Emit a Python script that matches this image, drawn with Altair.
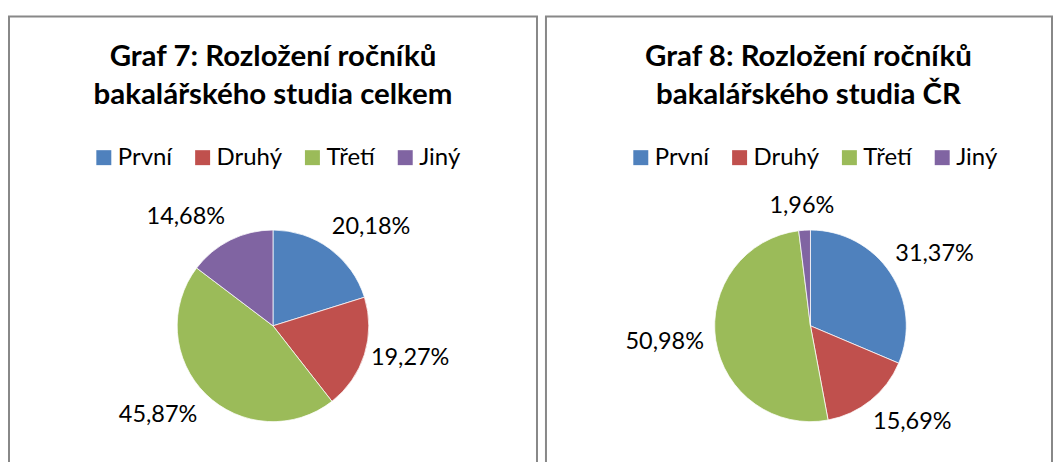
import math
import altair as alt
import pandas as pd

kategorie = ["První", "Druhý", "Třetí", "Jiný"]
celkem = [20.18, 19.27, 45.87, 14.68]
cr = [31.37, 15.69, 50.98, 1.96]
barvy = ["#4F81BD", "#C0504D", "#9BBB59", "#8064A2"]
titulek7 = ["Graf 7: Rozložení ročníků", "bakalářského studia celkem"]
titulek8 = ["Graf 8: Rozložení ročníků", "bakalářského studia ČR"]

FONT = "Lato"
RAMECEK = alt.ViewBackground(stroke="#888888", strokeWidth=2)
VYSKA = 460
STRED_Y = 310


def panel(hodnoty, titulek, sirka, stred_x, posun_titulku):
    df = pd.DataFrame({
        "kategorie": kategorie,
        "podil": hodnoty,
        "poradi": list(range(len(kategorie))),
        "popisek": [f"{v:.2f}".replace(".", ",") + "%" for v in hodnoty],
    })
    base = alt.Chart(df)
    kolac = base.mark_arc(outerRadius=96, stroke="white", strokeWidth=0.75).encode(
        x=alt.value(stred_x),
        y=alt.value(STRED_Y),
        theta=alt.Theta("podil:Q", stack=True),
        color=alt.Color(
            "kategorie:N",
            scale=alt.Scale(domain=kategorie, range=barvy),
            sort=kategorie,
            legend=alt.Legend(
                title=None, orient="none", direction="horizontal",
                legendX=83, legendY=129.5,
                symbolType="square", symbolSize=225, symbolStrokeWidth=0,
                labelFontSize=24, labelFont=FONT, labelColor="#000000",
                labelOffset=2, columnPadding=18, labelLimit=300,
            ),
        ),
        order=alt.Order("poradi:Q"),
    )
    uhly = (
        base.transform_window(cum="sum(podil)", sort=[alt.SortField("poradi")], frame=[None, 0])
        .transform_joinaggregate(total="sum(podil)")
        .transform_calculate(
            mid="(datum.cum - datum.podil / 2) / datum.total",
        )
        .transform_calculate(
            s="sin(2 * PI * datum.mid)",
            c="cos(2 * PI * datum.mid)",
        )
    )
    vrstvy = [kolac]
    podminky_a = {
        "left": ("datum.s > 0.3", -5),
        "right": ("datum.s < -0.3", 0),
        "center": ("abs(datum.s) <= 0.3", -2),
    }
    podminky_b = {
        "bottom": "datum.c > 0.35",
        "top": "datum.c < -0.35",
        "middle": "abs(datum.c) <= 0.35",
    }
    for a, (fa, posun) in podminky_a.items():
        for b, fb in podminky_b.items():
            vrstvy.append(
                uhly.transform_filter(f"({fa}) && ({fb})")
                .mark_text(radius=108, align=a, baseline=b, dx=posun,
                           fontSize=23.5, font=FONT, color="#000000")
                .encode(
                    x=alt.value(stred_x),
                    y=alt.value(STRED_Y),
                    theta=alt.Theta("mid:Q", scale=alt.Scale(domain=[0, 1], range=[0, 2 * math.pi])),
                    text="popisek:N",
                )
            )
    return alt.layer(*vrstvy).resolve_scale(theta="independent").properties(
        width=sirka, height=VYSKA, view=RAMECEK,
        title=alt.TitleParams(
            text=titulek, fontSize=29.5, font=FONT, fontWeight="bold", color="#000000",
            anchor="middle", offset=-94, lineHeight=38, dx=posun_titulku,
        ),
    )


chart = (
    alt.hconcat(
        panel(celkem, titulek7, 529, 264.5, 0),
        panel(cr, titulek8, 507, 265, 9.5),
        spacing=7,
    )
    .resolve_legend(color="independent")
    .properties(padding={"left": 0, "top": 7, "right": 0, "bottom": 0}, background="white")
    .configure_view(stroke="#888888", strokeWidth=2)
    .configure(font=FONT)
)

chart.save("out.html", embed_options={"renderer": "svg", "actions": False})
